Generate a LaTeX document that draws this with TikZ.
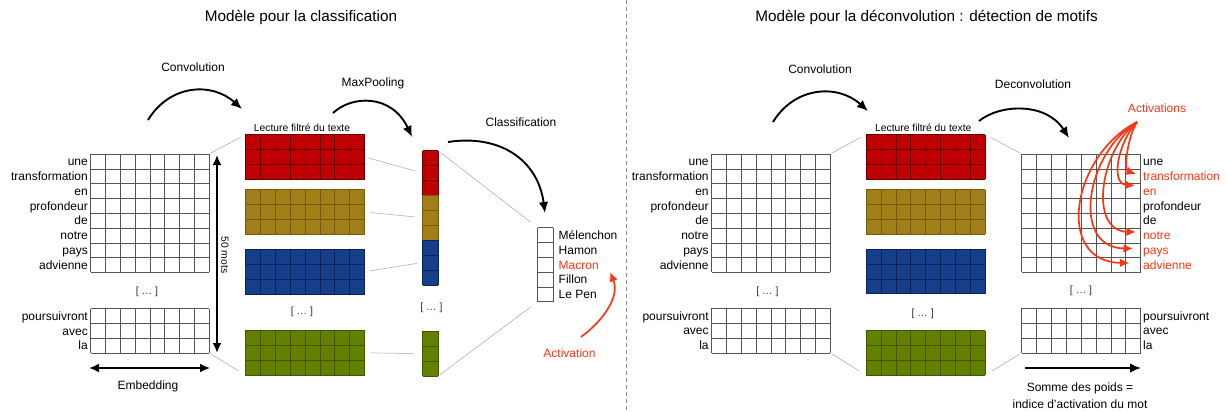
\documentclass[tikz,border=0pt]{standalone}
\usepackage{fontspec}
\setmainfont{Liberation Sans}
\usetikzlibrary{arrows.meta}
\definecolor{cred}{RGB}{192,0,0}
\definecolor{credl}{RGB}{105,0,0}
\definecolor{cyel}{RGB}{160,126,24}
\definecolor{cyell}{RGB}{118,90,14}
\definecolor{cblue}{RGB}{22,62,138}
\definecolor{cbluel}{RGB}{10,36,90}
\definecolor{cgreen}{RGB}{100,128,0}
\definecolor{cgreenl}{RGB}{66,86,0}
\definecolor{cact}{RGB}{250,55,20}
\definecolor{cgridl}{RGB}{85,85,85}
\newcommand\cellgrid[7]{%
  \foreach \ci in {0,...,#3}{\draw[#7] ({#1+\ci*#5},{#2}) -- ({#1+\ci*#5},{#2+#4*#6});}
  \foreach \cj in {0,...,#4}{\draw[#7] ({#1},{#2+\cj*#6}) -- ({#1+#3*#5},{#2+\cj*#6});}
}
\begin{document}
\begin{tikzpicture}[x=1pt,y=-1pt,
  lbl/.style={font=\fontsize{12}{14}\selectfont, inner sep=0pt},
  small/.style={font=\fontsize{10.3}{12}\selectfont, inner sep=0pt},
  dots/.style={font=\fontsize{10.5}{12}\selectfont, inner sep=0pt, text=black!80},
  ttl/.style={font=\fontsize{15.3}{18}\selectfont, inner sep=0pt},
  blk/.style={anchor=north west, inner sep=0pt, outer sep=0pt},
  wline/.style={cgridl, line width=0.6pt},
  conn/.style={black!35, line width=0.5pt},
  bigarrow/.style={line width=1.9pt, -{Latex[length=11pt,width=9.5pt]}},
  dblarrow/.style={line width=1.9pt, {Latex[length=10pt,width=9pt]}-{Latex[length=10pt,width=9pt]}},
  actarrow/.style={cact, line width=1.7pt, -{Latex[length=9.5pt,width=8.5pt]}},
]
\useasboundingbox (0,0) rectangle (1227,412);
\fill[white] (0,0) rectangle (1227,412);

% separator
\coordinate (septop) at (626.5,0);
\coordinate (sepbot) at (626.5,412);
\draw[black!45, line width=0.6pt, dash pattern=on 4pt off 3pt] (septop) -- (sepbot);

% titles
\node[ttl] (t1) at (301,17) {Modèle pour la classification};
\node[ttl] (t2) at (926.5,17) {Modèle pour la déconvolution : détection de motifs};

% ================= LEFT PANEL =================
\node[blk, minimum width=118.4pt, minimum height=118.4pt] (in1) at (90.7,154) {};
\cellgrid{90.7}{154}{8}{8}{14.8}{14.8}{wline}
\node[blk, minimum width=118.4pt, minimum height=44.4pt] (in2) at (90.7,308.5) {};
\cellgrid{90.7}{308.5}{8}{3}{14.8}{14.8}{wline}
\foreach \w [count=\k from 0] in {une,transformation,en,profondeur,de,notre,pays,advienne}
  \node[lbl, anchor=base east] (wl\k) at (88,{161.4+\k*14.8+4.3}) {\w};
\foreach \w [count=\k from 0] in {poursuivront,avec,la}
  \node[lbl, anchor=base east] (wlb\k) at (88,{315.9+\k*14.8+4.3}) {\w};
\node[dots] (d1) at (147,292) {[ … ]};

\coordinate (mtop) at (217,155);
\coordinate (mbot) at (217,353);
\draw[dblarrow] (mtop) -- (mbot);
\node[small, rotate=-90] (mots) at (225,255) {50 mots};
\coordinate (eleft) at (89,368);
\coordinate (eright) at (210,368);
\draw[dblarrow] (eleft) -- (eright);
\node[lbl] (emb) at (148,386) {Embedding};

\node[lbl] (convl) at (193,67.5) {Convolution};
\coordinate (ca1) at (148,120);
\coordinate (ca2) at (242,109);
\draw[bigarrow] (ca1) .. controls (170,84) and (212,82) .. (ca2);

\node[small] (lect1) at (302,128) {Lecture filtré du texte};
\node[blk, fill=cred, minimum width=119.2pt, minimum height=44.4pt] (lc1) at (245.3,134.7) {};
\cellgrid{245.3}{134.7}{8}{3}{14.9}{14.8}{credl, line width=0.6pt}
\node[blk, fill=cyel, minimum width=119.2pt, minimum height=44.4pt] (lc2) at (245.3,189.7) {};
\cellgrid{245.3}{189.7}{8}{3}{14.9}{14.8}{cyell, line width=0.6pt}
\node[blk, fill=cblue, minimum width=119.2pt, minimum height=44.4pt] (lc3) at (245.3,249.5) {};
\cellgrid{245.3}{249.5}{8}{3}{14.9}{14.8}{cbluel, line width=0.6pt}
\node[dots] (d2) at (302,311.5) {[ … ]};
\node[blk, fill=cgreen, minimum width=119.2pt, minimum height=44.4pt] (lc4) at (245.3,330.6) {};
\cellgrid{245.3}{330.6}{8}{3}{14.9}{14.8}{cgreenl, line width=0.6pt}

\draw[conn, shorten <=2pt, shorten >=5pt] (in1.north east) -- (lc1.north west);
\draw[conn, shorten <=1pt, shorten >=8pt] (in2.south east) -- (lc4.south west);

\node[lbl] (mpl) at (373,83) {MaxPooling};
\coordinate (ma1) at (333,113);
\coordinate (ma2) at (412,137);
\draw[bigarrow] (ma1) .. controls (352,95) and (392,94) .. (ma2);

\node[blk, fill=cred, minimum width=15.5pt, minimum height=44.7pt] (lp1) at (422.7,150.7) {};
\cellgrid{422.7}{150.7}{1}{3}{15.5}{14.9}{credl, line width=0.6pt}
\node[blk, fill=cyel, minimum width=15.5pt, minimum height=44.7pt] (lp2) at (422.7,195.4) {};
\cellgrid{422.7}{195.4}{1}{3}{15.5}{14.9}{cyell, line width=0.6pt}
\node[blk, fill=cblue, minimum width=15.5pt, minimum height=44.7pt] (lp3) at (422.7,240.1) {};
\cellgrid{422.7}{240.1}{1}{3}{15.5}{14.9}{cbluel, line width=0.6pt}
\node[dots] (d3) at (431.5,307.3) {[ … ]};
\node[blk, fill=cgreen, minimum width=15.5pt, minimum height=44.7pt] (lp4) at (422.7,331.3) {};
\cellgrid{422.7}{331.3}{1}{3}{15.5}{14.9}{cgreenl, line width=0.6pt}

\draw[conn, shorten <=4pt, shorten >=8pt] (lc1.east) -- (lp1.west);
\draw[conn, shorten <=6pt, shorten >=8pt] (lc2.east) -- (lp2.west);
\draw[conn, shorten <=5pt, shorten >=6pt] (lc3.east) -- (lp3.west);
\draw[conn, shorten <=6pt, shorten >=9pt] (lc4.east) -- (lp4.west);

\node[lbl] (clsl) at (521,122.5) {Classification};
\coordinate (cla1) at (448,142);
\coordinate (cla2) at (545,213);
\draw[bigarrow] (cla1) .. controls (500,134) and (538,160) .. (cla2);

\node[blk, minimum width=15.6pt, minimum height=74pt] (out) at (537.7,227.7) {};
\cellgrid{537.7}{227.7}{1}{5}{15.6}{14.8}{wline}
\foreach \w/\c [count=\k from 0] in {Mélenchon/black,Hamon/black,Macron/cact,Fillon/black,Le Pen/black}
  \node[lbl, anchor=base west, text=\c] (cand\k) at (558.5,{235.1+\k*14.8+4.3}) {\w};

\draw[conn, shorten <=3pt, shorten >=9pt] (lp1.north east) -- (out.north west);
\draw[conn, shorten <=2pt, shorten >=8pt] (lp4.south east) -- (out.south west);

\node[lbl, text=cact] (actl) at (569.5,353.5) {Activation};
\coordinate (aa1) at (581,337);
\coordinate (aa2) at (610,272);
\draw[actarrow] (aa1) .. controls (604,320) and (620,296) .. (aa2);

% ================= RIGHT PANEL =================
\node[blk, minimum width=118.4pt, minimum height=118.4pt] (rin1) at (711.7,154) {};
\cellgrid{711.7}{154}{8}{8}{14.8}{14.8}{wline}
\node[blk, minimum width=118.4pt, minimum height=44.4pt] (rin2) at (711.7,308.4) {};
\cellgrid{711.7}{308.4}{8}{3}{14.8}{14.8}{wline}
\foreach \w [count=\k from 0] in {une,transformation,en,profondeur,de,notre,pays,advienne}
  \node[lbl, anchor=base east] (wr\k) at (708.8,{161.4+\k*14.8+4.3}) {\w};
\foreach \w [count=\k from 0] in {poursuivront,avec,la}
  \node[lbl, anchor=base east] (wrb\k) at (708.8,{315.8+\k*14.8+4.3}) {\w};
\node[dots] (d4) at (767.5,291.7) {[ … ]};

\node[lbl] (convr) at (820,69) {Convolution};
\coordinate (rca1) at (773,122);
\coordinate (rca2) at (868,111);
\draw[bigarrow] (rca1) .. controls (795,86) and (838,84) .. (rca2);

\node[small] (lect2) at (923.3,127.7) {Lecture filtré du texte};
\node[blk, fill=cred, minimum width=119.2pt, minimum height=44.4pt] (rc1) at (866,134.5) {};
\cellgrid{866}{134.5}{8}{3}{14.9}{14.8}{credl, line width=0.6pt}
\node[blk, fill=cyel, minimum width=119.2pt, minimum height=44.4pt] (rc2) at (866,189.5) {};
\cellgrid{866}{189.5}{8}{3}{14.9}{14.8}{cyell, line width=0.6pt}
\node[blk, fill=cblue, minimum width=119.2pt, minimum height=44.4pt] (rc3) at (866,249.2) {};
\cellgrid{866}{249.2}{8}{3}{14.9}{14.8}{cbluel, line width=0.6pt}
\node[dots] (d5) at (922.7,313.3) {[ … ]};
\node[blk, fill=cgreen, minimum width=119.2pt, minimum height=44.4pt] (rc4) at (866,330.7) {};
\cellgrid{866}{330.7}{8}{3}{14.9}{14.8}{cgreenl, line width=0.6pt}

\draw[conn, shorten <=2pt, shorten >=6pt] (rin1.north east) -- (rc1.north west);
\draw[conn, shorten <=2pt, shorten >=8pt] (rin2.south east) -- (rc4.south west);

\node[lbl] (deconvl) at (1033,84) {Deconvolution};
\coordinate (da1) at (979,121);
\coordinate (da2) at (1069,138);
\draw[bigarrow] (da1) .. controls (1000,104) and (1046,102) .. (da2);

\node[blk, minimum width=118.8pt, minimum height=118.4pt] (dg1) at (1021.7,154) {};
\cellgrid{1021.7}{154}{8}{8}{14.85}{14.8}{wline}
\node[blk, minimum width=118.8pt, minimum height=44.4pt] (dg2) at (1021.7,308.4) {};
\cellgrid{1021.7}{308.4}{8}{3}{14.85}{14.8}{wline}
\foreach \w/\c [count=\k from 0] in {une/black,transformation/cact,en/cact,profondeur/black,de/black,notre/cact,pays/cact,advienne/cact}
  \node[lbl, anchor=base west, text=\c] (wd\k) at (1143,{161.4+\k*14.8+4.3}) {\w};
\foreach \w [count=\k from 0] in {poursuivront,avec,la}
  \node[lbl, anchor=base west] (wdb\k) at (1143,{315.8+\k*14.8+4.3}) {\w};
\node[dots] (d6) at (1081,291) {[ … ]};

\draw[conn, shorten <=6pt, shorten >=2pt] (rc1.north east) -- (dg1.north west);
\draw[conn, shorten <=8pt, shorten >=3pt] (rc4.south east) -- (dg2.south west);

\coordinate (sa1) at (1025,368);
\coordinate (sa2) at (1141,368);
\draw[bigarrow] (sa1) -- (sa2);
\node[lbl, align=center, font=\fontsize{12}{17}\selectfont] (somme) at (1080,396) {Somme des poids =\\indice d’activation du mot};

\node[lbl, text=cact] (actsl) at (1157,108) {Activations};
\coordinate (ac0) at (1137,122);
\coordinate (at1) at (1136,174);
\coordinate (at2) at (1135,185.5);
\coordinate (at3) at (1136,232);
\coordinate (at4) at (1133,248.5);
\coordinate (at5) at (1129.5,263);
\draw[actarrow] (ac0) .. controls (1127,138) and (1124,170) .. (at1);
\draw[actarrow] (ac0) .. controls (1118,142) and (1110,184) .. (at2);
\draw[actarrow] (ac0) .. controls (1100,150) and (1088,231) .. (at3);
\draw[actarrow] (ac0) .. controls (1086,152) and (1070,248) .. (at4);
\draw[actarrow] (ac0) .. controls (1072,155) and (1054,262) .. (at5);
\end{tikzpicture}
\end{document}
